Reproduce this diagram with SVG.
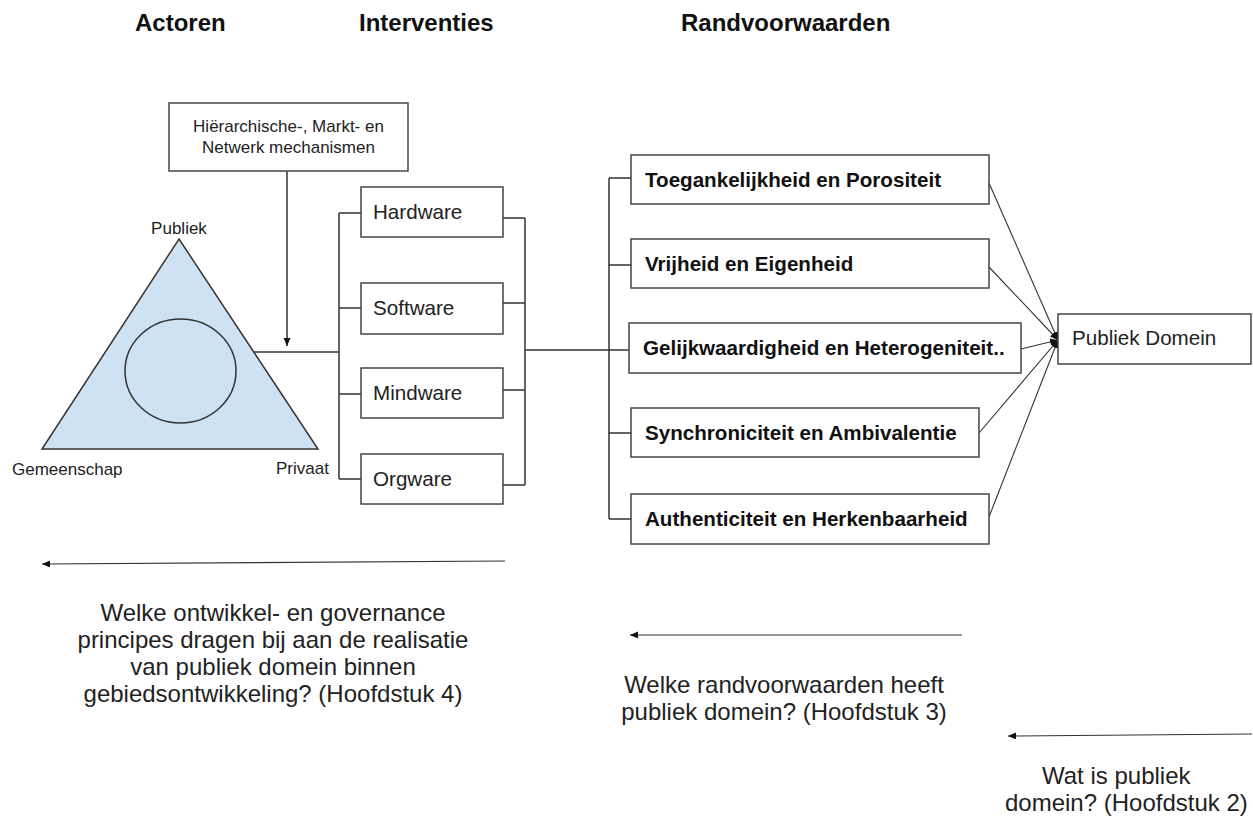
<svg xmlns="http://www.w3.org/2000/svg" width="1253" height="817" viewBox="0 0 1253 817">
<style>
text{font-family:"Liberation Sans",Arial,sans-serif;fill:#222}
.h{font-size:24px;font-weight:bold;fill:#111}
.s{font-size:17px}
.b{font-size:20.6px}
.bb{font-size:20.6px;font-weight:bold;fill:#111}
.q{font-size:24px}
.box{fill:#fff;stroke:#444;stroke-width:1.5}
.ln{fill:none;stroke:#333;stroke-width:1.5}
.th{fill:none;stroke:#333;stroke-width:1.1}
</style>
<defs>
<marker id="ah" markerUnits="userSpaceOnUse" markerWidth="9" markerHeight="8" refX="8" refY="3.5" orient="auto">
<path d="M0,0 L8,3.5 L0,7 z" fill="#111"/>
</marker>
</defs>
<rect width="1253" height="817" fill="#fff"/>

<g id="headers">
<text class="h" x="135" y="31">Actoren</text>
<text class="h" x="359" y="31">Interventies</text>
<text class="h" x="681" y="31">Randvoorwaarden</text>
</g>

<g id="connectors">
<path class="ln" d="M287,171 V346" marker-end="url(#ah)"/>
<path class="ln" d="M254,352 H339 M339,213 V479 M339,213 H361 M339,308 H361 M339,394 H361 M339,479 H361"/>
<path class="ln" d="M503,218 H525 M503,303 H525 M503,390 H525 M503,485 H525 M525,218 V485 M525,350 H629"/>
<path class="ln" d="M609,178 V519 M609,178 H631 M609,265 H631 M609,433 H631 M609,519 H631"/>
<path class="th" d="M989,183 L1058,340" marker-end="url(#ah)"/>
<path class="th" d="M989,267 L1058,340" marker-end="url(#ah)"/>
<path class="th" d="M1021,349 L1058,340" marker-end="url(#ah)"/>
<path class="th" d="M979,433 L1058,340" marker-end="url(#ah)"/>
<path class="th" d="M989,517 L1058,340" marker-end="url(#ah)"/>
<path class="th" d="M505,561 L42,564" marker-end="url(#ah)"/>
<path class="th" d="M962,635 L630,635" marker-end="url(#ah)"/>
<path class="th" d="M1252,734 L1008,736" marker-end="url(#ah)"/>
</g>

<g id="mechanismen">
<rect class="box" x="169" y="103" width="239" height="68"/>
<text class="s" x="288.5" y="132" text-anchor="middle">Hiërarchische-, Markt- en</text>
<text class="s" x="288.5" y="153" text-anchor="middle">Netwerk mechanismen</text>
</g>

<g id="actoren">
<polygon points="179,239 318,449 42,449" fill="#cfe2f3" stroke="#333" stroke-width="1.5"/>
<ellipse cx="180.5" cy="371" rx="55.5" ry="52" fill="none" stroke="#333" stroke-width="1.5"/>
<text class="s" x="179" y="234" text-anchor="middle">Publiek</text>
<text class="s" x="12" y="475">Gemeenschap</text>
<text class="s" x="276" y="474">Privaat</text>
</g>

<g id="hardware">
<rect class="box" x="361" y="187" width="142" height="50"/>
<text class="b" x="373" y="219">Hardware</text>
</g>
<g id="software">
<rect class="box" x="361" y="283" width="142" height="51"/>
<text class="b" x="373" y="315">Software</text>
</g>
<g id="mindware">
<rect class="box" x="361" y="368" width="142" height="50"/>
<text class="b" x="373" y="400">Mindware</text>
</g>
<g id="orgware">
<rect class="box" x="361" y="454" width="142" height="50"/>
<text class="b" x="373" y="486">Orgware</text>
</g>

<g id="toegankelijkheid">
<rect class="box" x="631" y="155" width="358" height="49"/>
<text class="bb" x="645" y="186.5">Toegankelijkheid en Porositeit</text>
</g>
<g id="vrijheid">
<rect class="box" x="631" y="239" width="358" height="49"/>
<text class="bb" x="645" y="270.5">Vrijheid en Eigenheid</text>
</g>
<g id="gelijkwaardigheid">
<rect class="box" x="629" y="323" width="392" height="50"/>
<text class="bb" x="643" y="355">Gelijkwaardigheid en Heterogeniteit..</text>
</g>
<g id="synchroniciteit">
<rect class="box" x="631" y="408" width="348" height="49"/>
<text class="bb" x="645" y="439.5">Synchroniciteit en Ambivalentie</text>
</g>
<g id="authenticiteit">
<rect class="box" x="631" y="494" width="358" height="50"/>
<text class="bb" x="645" y="526">Authenticiteit en Herkenbaarheid</text>
</g>

<g id="publiek-domein">
<rect class="box" x="1058" y="314" width="193" height="50"/>
<text class="b" x="1072" y="345">Publiek Domein</text>
</g>

<g id="vraag-h4">
<text class="q" x="273" y="621" text-anchor="middle">Welke ontwikkel- en governance</text>
<text class="q" x="273" y="648" text-anchor="middle">principes dragen bij aan de realisatie</text>
<text class="q" x="273" y="675" text-anchor="middle">van publiek domein binnen</text>
<text class="q" x="273" y="702" text-anchor="middle">gebiedsontwikkeling? (Hoofdstuk 4)</text>
</g>
<g id="vraag-h3">
<text class="q" x="784" y="693" text-anchor="middle">Welke randvoorwaarden heeft</text>
<text class="q" x="784" y="720" text-anchor="middle">publiek domein? (Hoofdstuk 3)</text>
</g>
<g id="vraag-h2">
<text class="q" x="1042" y="784">Wat is publiek</text>
<text class="q" x="1005" y="811">domein? (Hoofdstuk 2)</text>
</g>
</svg>
